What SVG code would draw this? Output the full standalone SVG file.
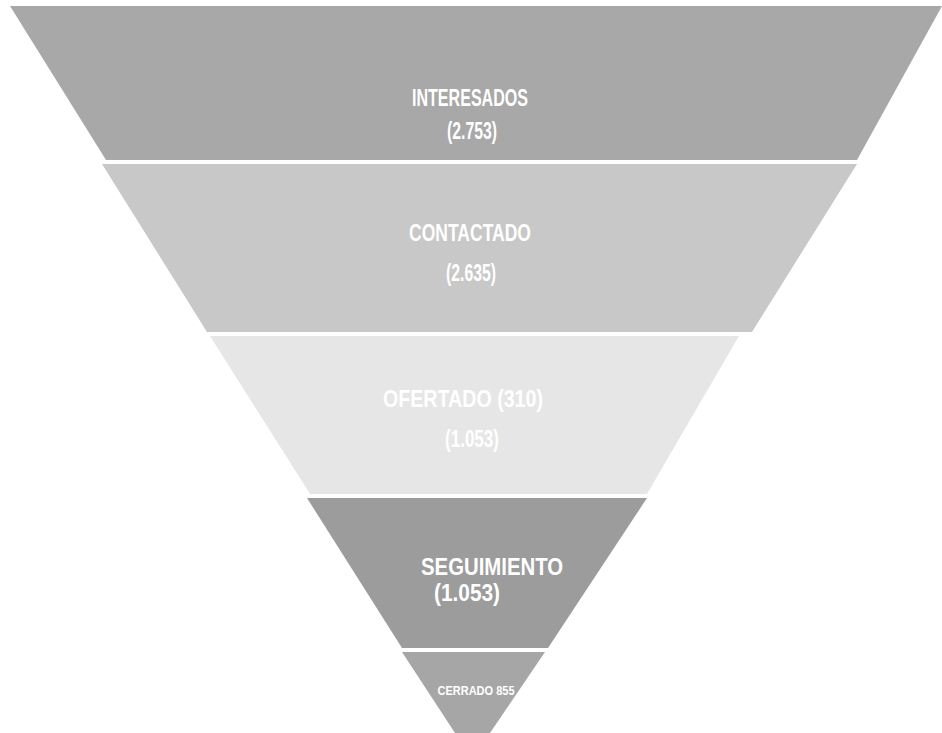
<svg xmlns="http://www.w3.org/2000/svg" width="942" height="733" viewBox="0 0 942 733">
<style>
.t{font-family:"Liberation Sans","Open Sans",Arial,sans-serif;font-weight:bold;fill:#ffffff;text-anchor:middle}
.b{stroke:none}
</style>
<rect width="942" height="733" fill="#ffffff"/>
<g id="interesados">
<polygon class="b" points="10,6 942,6 857,160 106,160" fill="#a8a8a8"/>
<text class="t" x="470" y="106" font-size="24" textLength="116" lengthAdjust="spacingAndGlyphs">INTERESADOS</text>
<text class="t" x="472" y="139" font-size="24" textLength="50" lengthAdjust="spacingAndGlyphs">(2.753)</text>
</g>
<g id="contactado">
<polygon class="b" points="102,164 857,164 752,332 207,332" fill="#c8c8c8"/>
<text class="t" x="470" y="241" font-size="24" textLength="122" lengthAdjust="spacingAndGlyphs">CONTACTADO</text>
<text class="t" x="471" y="281" font-size="24" textLength="50" lengthAdjust="spacingAndGlyphs">(2.635)</text>
</g>
<g id="ofertado">
<polygon class="b" points="210,336 739,336 647,494 310,494" fill="#e6e6e6"/>
<text class="t" x="463" y="407" font-size="24" textLength="160" lengthAdjust="spacingAndGlyphs">OFERTADO (310)</text>
<text class="t" x="472" y="447" font-size="24" textLength="54" lengthAdjust="spacingAndGlyphs">(1.053)</text>
</g>
<g id="seguimiento">
<polygon class="b" points="307,498 647,498 548,648 402,648" fill="#9c9c9c"/>
<text class="t" x="492" y="575" font-size="24" textLength="142" lengthAdjust="spacingAndGlyphs">SEGUIMIENTO</text>
<text class="t" x="467" y="601" font-size="24" textLength="66" lengthAdjust="spacingAndGlyphs">(1.053)</text>
</g>
<g id="cerrado">
<polygon class="b" points="402,652 545,652 490,733 455,733" fill="#a6a6a6"/>
<text class="t" x="476" y="695" font-size="13" textLength="77" lengthAdjust="spacingAndGlyphs">CERRADO 855</text>
</g>
<g id="connectors"></g>
</svg>
